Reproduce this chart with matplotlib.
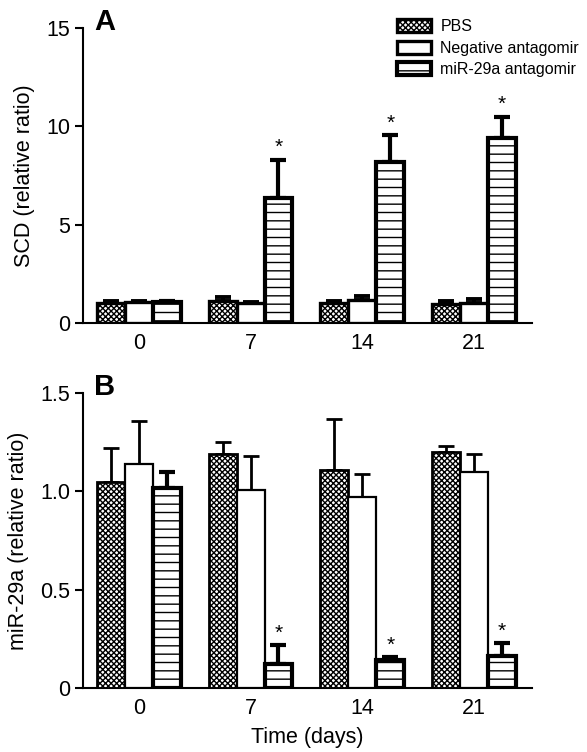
import numpy as np
import matplotlib
matplotlib.use("Agg")
import matplotlib.pyplot as plt

plt.rcParams['font.family'] = ['Liberation Sans', 'DejaVu Sans']
plt.rcParams['hatch.linewidth'] = 1.0

days = ["0", "7", "14", "21"]
groups = ["PBS", "Negative antagomir", "miR-29a antagomir"]

# panel A: SCD
scd_pbs = [1.0, 1.1, 1.0, 0.95]
scd_pbs_err = [0.1, 0.2, 0.1, 0.15]
scd_neg = [1.05, 1.0, 1.15, 1.0]
scd_neg_err = [0.08, 0.07, 0.2, 0.2]
scd_mir = [1.05, 6.35, 8.2, 9.4]
scd_mir_err = [0.08, 1.95, 1.35, 1.1]
scd_star = [False, True, True, True]

# panel B: miR-29a
mir_pbs = [1.05, 1.19, 1.11, 1.20]
mir_pbs_err = [0.17, 0.06, 0.26, 0.03]
mir_neg = [1.14, 1.01, 0.97, 1.10]
mir_neg_err = [0.22, 0.17, 0.12, 0.09]
mir_mir = [1.02, 0.12, 0.14, 0.165]
mir_mir_err = [0.08, 0.10, 0.02, 0.065]
mir_star = [False, True, True, True]

W = 0.25
x = np.arange(len(days))


def draw_panel(ax, series, errs, star, lws, elws, ylim, yticks, yticklabels, ylabel, letter, star_off):
    hatches = ['xxxxxx', '', '--']
    for i, (vals, err) in enumerate(zip(series, errs)):
        pos = x + (i - 1) * W
        ax.bar(pos, vals, W, color='white', edgecolor='black', hatch=hatches[i],
               linewidth=lws[i], zorder=3)
        ax.errorbar(pos, vals, yerr=[np.zeros(len(vals)), err], fmt='none',
                    ecolor='black', elinewidth=elws[i], capsize=5.5, capthick=elws[i], zorder=2)
    for j in range(len(days)):
        if star[j]:
            top = series[2][j] + errs[2][j]
            ax.text(x[j] + W, top + star_off, '*', ha='center', va='bottom', fontsize=15)
    ax.set_xlim(-0.5, 3.52)
    ax.set_ylim(*ylim)
    ax.set_yticks(yticks)
    ax.set_yticklabels(yticklabels)
    ax.set_xticks(x)
    ax.set_xticklabels(days)
    ax.spines['top'].set_visible(False)
    ax.spines['right'].set_visible(False)
    ax.spines['left'].set_linewidth(1.5)
    ax.spines['bottom'].set_linewidth(1.5)
    ax.tick_params(axis='y', length=6, width=1.5, labelsize=15.5, pad=3)
    ax.tick_params(axis='x', length=0, labelsize=15.5, pad=7)
    ax.set_ylabel(ylabel, fontsize=15.5, labelpad=8)
    ax.text(0.025, 1.02, letter, transform=ax.transAxes, fontsize=21, fontweight='bold',
            ha='left', va='center')


fig = plt.figure(figsize=(5.87, 7.52), dpi=100)
axA = fig.add_axes([0.1414, 0.5705, 0.765, 0.392])
axB = fig.add_axes([0.1414, 0.0851, 0.765, 0.392])

draw_panel(axA, [scd_pbs, scd_neg, scd_mir], [scd_pbs_err, scd_neg_err, scd_mir_err], scd_star,
           [2.4, 2.4, 3.0], [2.8, 2.8, 3.0], (0, 15), [0, 5, 10, 15], ["0", "5", "10", "15"],
           "SCD (relative ratio)", "A", 0.15)
draw_panel(axB, [mir_pbs, mir_neg, mir_mir], [mir_pbs_err, mir_neg_err, mir_mir_err], mir_star,
           [2.0, 1.6, 3.0], [2.0, 2.0, 3.0], (0, 1.5), [0, 0.5, 1.0, 1.5], ["0", "0.5", "1.0", "1.5"],
           "miR-29a (relative ratio)", "B", 0.008)
axB.set_xlabel("Time (days)", fontsize=15.5, labelpad=6)

leg = axA.legend([axA.patches[0], axA.patches[4], axA.patches[8]], groups, loc='upper left',
                 bbox_to_anchor=(0.70, 1.03), frameon=False, fontsize=11.5,
                 borderpad=0, borderaxespad=0,
                 handlelength=2.1, handleheight=0.85, handletextpad=0.6, labelspacing=0.4)

fig.savefig("out.png", dpi=100)
